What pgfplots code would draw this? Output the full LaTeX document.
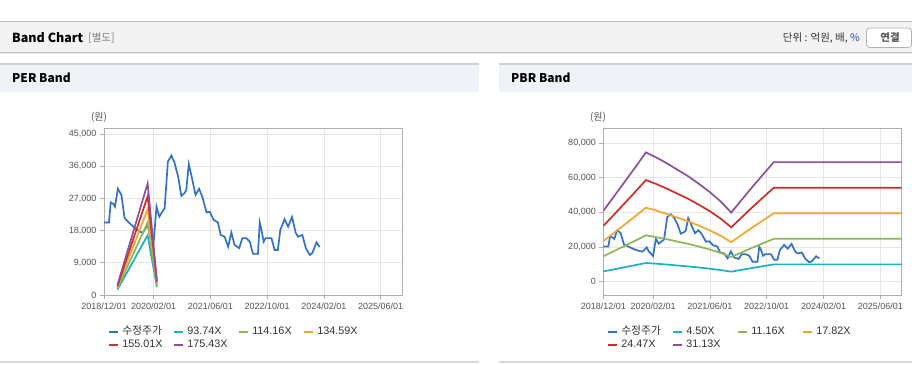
\documentclass[border=0pt]{standalone}
\usepackage{fontspec}
\setmainfont{Liberation Sans}
\newfontfamily\kr{Noto Sans CJK KR}
\usepackage{pgfplots}
\pgfplotsset{compat=1.18}
\definecolor{cBlue}{RGB}{51,114,199}
\definecolor{cCyan}{RGB}{28,176,196}
\definecolor{cGreen}{RGB}{140,184,86}
\definecolor{cOrange}{RGB}{246,166,48}
\definecolor{cRed}{RGB}{206,46,40}
\definecolor{cPurple}{RGB}{142,80,156}
\definecolor{hdrbg}{RGB}{243,243,243}
\definecolor{panbg}{RGB}{239,242,246}
\definecolor{gridc}{RGB}{230,230,230}
\definecolor{axc}{RGB}{175,175,175}
\definecolor{tickc}{RGB}{85,85,85}
\definecolor{legc}{RGB}{51,51,51}
\pgfplotsset{
  bandaxis/.style={
    anchor=south west, scale only axis, height=167pt,
    xmin=0, xmax=84,
    scaled y ticks=false, scaled x ticks=false,
    xtick={0,14,30,46,62,78},
    xticklabels={2018/12/01,2020/02/01,2021/06/01,2022/10/01,2024/02/01,2025/06/01},
    grid=major, major grid style={draw=gridc, line width=0.7pt},
    axis line style={draw=axc, line width=0.9pt},
    tick style={draw=axc, line width=0.7pt}, tick align=outside, major tick length=4pt,
    xtick pos=lower, ytick pos=left,
    ticklabel style={font=\fontsize{9}{10}\selectfont, text=tickc},
    /pgf/number format/assume math mode=true,
    legend columns=4,
    legend image code/.code={\draw[##1, line width=2.5pt] (0pt,0pt) -- (9pt,0pt);},
    legend style={at={(axis description cs:0.012,-0.182)}, anchor=north west,
      draw=none, fill=none, inner sep=0pt, row sep=0.5pt,
      nodes={text width=49pt, align=left, inner xsep=1.5pt, inner ysep=1pt,
        text height=8pt, text depth=2.5pt,
        font=\fontsize{10.8}{12}\selectfont, text=legc},
      /tikz/every odd column/.style={column sep=1.5pt}},
    every axis plot/.append style={line width=1.7pt, mark=none},
  }
}
\begin{document}
\begin{tikzpicture}[x=1pt,y=1pt]
\useasboundingbox (0,0) rectangle (912,364);
\fill[white] (0,0) rectangle (912,364);
% top header band
\fill[hdrbg] (0,311) rectangle (912,342);
\draw[black!25, line width=1pt] (0,342) -- (912,342);
\draw[black!22, line width=1pt] (0,311) -- (912,311);
\draw[black!10, line width=1pt] (0,310) -- (912,310);
\node[anchor=west, inner sep=0pt] at (12,326) {\kr\bfseries\fontsize{12.5}{14}\selectfont Band Chart};
\node[anchor=west, inner sep=0pt, text=black!50] at (88,326) {\kr\fontsize{10.5}{12}\selectfont [별도]};
\node[anchor=east, inner sep=0pt, text=black!80] at (860,326) {\kr\fontsize{10.5}{12}\selectfont 단위 : 억원, 배, \textcolor[RGB]{40,80,160}{\%}};
\draw[black!30, fill=white, rounded corners=3pt, line width=0.8pt] (866.5,316.5) rectangle (911.5,336);
\node[inner sep=0pt, text=black!65] at (890,326) {\kr\bfseries\fontsize{10.5}{12}\selectfont 연결};
% panel headers
\fill[panbg] (0,271.5) rectangle (479,300);
\fill[panbg] (499,271.5) rectangle (912,300);
\draw[black!18, line width=1.5pt] (0,300) -- (479,300);
\draw[black!18, line width=1.5pt] (499,300) -- (912,300);
\node[anchor=west, inner sep=0pt] at (12,286) {\kr\bfseries\fontsize{12}{14}\selectfont PER Band};
\node[anchor=west, inner sep=0pt] at (511,286) {\kr\bfseries\fontsize{12}{14}\selectfont PBR Band};
\draw[black!15, line width=1.5pt] (0,2) -- (479,2);
\draw[black!15, line width=1.5pt] (499,2) -- (912,2);
% unit labels
\node[text=tickc, inner sep=0pt] at (99,247) {\kr\fontsize{10}{12}\selectfont (원)};
\node[text=tickc, inner sep=0pt] at (598,247) {\kr\fontsize{10}{12}\selectfont (원)};

% ---------------- PER Band ----------------
\begin{axis}[bandaxis, at={(104pt,69pt)}, width=298pt,
  ymin=0, ymax=46700,
  ytick={0,9000,18000,27000,36000,45000},
  yticklabels={0,{9,000},{18,000},{27,000},{36,000},{45,000}},
]
\addplot[cBlue] coordinates {
(0,20300)(1.4,20300)(1.9,25900)(2.6,25500)(3.1,24700)(3.9,29700)(4.9,28000)(5.8,21500)
(7.2,20100)(8.7,18700)(10.1,17700)(11.0,17400)(11.6,18400)(12.2,19800)(12.8,17500)(13.5,16000)
(14.0,14800)(14.8,24700)(15.6,21900)(16.2,22900)(17.1,24300)(18.0,37300)(19.0,39000)(19.9,36900)
(20.9,33100)(21.8,27700)(22.7,28500)(23.2,29400)(23.9,36600)(24.6,33600)(25.8,28000)(26.8,29700)
(27.7,27500)(28.9,23100)(29.8,23300)(30.9,21000)(32.1,20300)(32.9,16800)(34.0,16300)(35.0,13500)
(35.9,17500)(36.8,14000)(38.1,13100)(39.0,15900)(40.1,15900)(41.1,14900)(42.0,11500)(43.4,11500)
(43.9,20300)(44.4,18200)(45.0,14900)(45.6,15900)(47.2,15900)(48.1,12600)(49.0,12600)(49.7,18200)
(50.9,21200)(51.9,19100)(53.0,21800)(54.0,17500)(54.7,16300)(55.9,16800)(56.9,13100)(58.0,11200)
(58.7,11700)(59.9,14700)(60.8,13400)};
\addlegendentry{\kr 수정주가}
\addplot[cCyan] coordinates {(3.8,1500)(12.3,16700)(14.9,2250)};
\addlegendentry{93.74X}
\addplot[cGreen] coordinates {(3.8,1830)(12.3,20300)(14.9,2740)};
\addlegendentry{114.16X}
\addplot[cOrange] coordinates {(3.8,2150)(12.3,24000)(14.9,3230)};
\addlegendentry{134.59X}
\addplot[cRed] coordinates {(3.8,2480)(12.3,27600)(14.9,3720)};
\addlegendentry{155.01X}
\addplot[cPurple] coordinates {(3.8,2810)(12.3,31200)(14.9,4210)};
\addlegendentry{175.43X}
\end{axis}

% ---------------- PBR Band ----------------
\begin{axis}[bandaxis, at={(603.3pt,69pt)}, width=298.4pt,
  ymin=-7700, ymax=88700,
  ytick={0,20000,40000,60000,80000},
  yticklabels={0,{20,000},{40,000},{60,000},{80,000}},
  legend style={at={(axis description cs:0.011,-0.182)}},
]
\addplot[cBlue] coordinates {
(0,20300)(1.4,20300)(1.9,25900)(2.6,25500)(3.1,24700)(3.9,29700)(4.9,28000)(5.8,21500)
(7.2,20100)(8.7,18700)(10.1,17700)(11.0,17400)(11.6,18400)(12.2,19800)(12.8,17500)(13.5,16000)
(14.0,14800)(14.8,24700)(15.6,21900)(16.2,22900)(17.1,24300)(18.0,37300)(19.0,39000)(19.9,36900)
(20.9,33100)(21.8,27700)(22.7,28500)(23.2,29400)(23.9,36600)(24.6,33600)(25.8,28000)(26.8,29700)
(27.7,27500)(28.9,23100)(29.8,23300)(30.9,21000)(32.1,20300)(32.9,16800)(34.0,16300)(35.0,13500)
(35.9,17500)(36.8,14000)(38.1,13100)(39.0,15900)(40.1,15900)(41.1,14900)(42.0,11500)(43.4,11500)
(43.9,20300)(44.4,18200)(45.0,14900)(45.6,15900)(47.2,15900)(48.1,12600)(49.0,12600)(49.7,18200)
(50.9,21200)(51.9,19100)(53.0,21800)(54.0,17500)(54.7,16300)(55.9,16800)(56.9,13100)(58.0,11200)
(58.7,11700)(59.9,14700)(60.8,13400)};
\addlegendentry{\kr 수정주가}
\addplot[cCyan] coordinates {(0,5909)(3,7110)(6,8325)(9,9540)(12,10787)(15,10350)(18,9855)(21,9315)(24,8775)(27,8145)(30,7470)(33,6705)(36,5769)(39,6840)(42,7920)(45,8955)(48,9977)(84,9977)};
\addlegendentry{4.50X}
\addplot[cGreen] coordinates {(0,14653)(3,17633)(6,20646)(9,23659)(12,26751)(15,25668)(18,24440)(21,23101)(24,21762)(27,20200)(30,18526)(33,16628)(36,14307)(39,16963)(42,19642)(45,22208)(48,24742)(84,24742)};
\addlegendentry{11.16X}
\addplot[cOrange] coordinates {(0,23398)(3,28156)(6,32967)(9,37778)(12,42715)(15,40986)(18,39026)(21,36887)(24,34749)(27,32254)(30,29581)(33,26552)(36,22845)(39,27086)(42,31363)(45,35462)(48,39507)(84,39507)};
\addlegendentry{17.82X}
\addplot[cRed] coordinates {(0,32129)(3,38663)(6,45270)(9,51876)(12,58655)(15,56281)(18,53589)(21,50653)(24,47717)(27,44291)(30,40620)(33,36460)(36,31371)(39,37194)(42,43067)(45,48695)(48,54250)(84,54250)};
\addlegendentry{24.47X}
\addplot[cPurple] coordinates {(0,40874)(3,49185)(6,57591)(9,65996)(12,74619)(15,71599)(18,68175)(21,64439)(24,60704)(27,56345)(30,51676)(33,46384)(36,39909)(39,47318)(42,54789)(45,61949)(48,69015)(84,69015)};
\addlegendentry{31.13X}
\end{axis}
\end{tikzpicture}
\end{document}
